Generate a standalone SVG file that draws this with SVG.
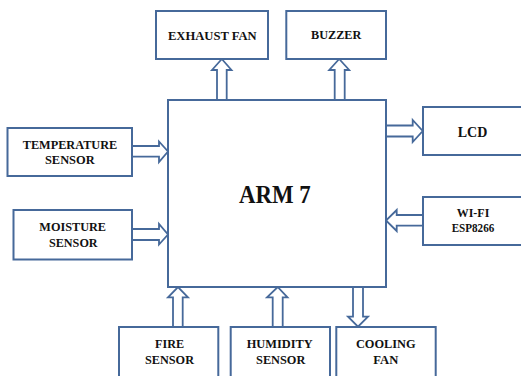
<svg xmlns="http://www.w3.org/2000/svg" width="521" height="376" viewBox="0 0 521 376">
<style>
.box{fill:#fff;stroke:#46699a;stroke-width:2}
.arr{fill:#fff;stroke:#46699a;stroke-width:1.8;stroke-linejoin:miter}
text{font-family:"Liberation Serif","Times New Roman",serif;font-weight:bold;fill:#111;text-anchor:middle;font-size:13px}
.big{font-size:25px}
.mid{font-size:15px}
</style>
<rect width="521" height="376" fill="#fff"/>
<g id="connectors">
<polygon class="arr" points="217,100 217,70 212,70 221.8,59 231.5,70 226.7,70 226.7,100"/>
<polygon class="arr" points="334.7,100 334.7,70 329.2,70 339.2,59 349.2,70 344.7,70 344.7,100"/>
<polygon class="arr" points="386,125.5 412.7,125.5 412.7,120 422.7,131 412.7,142 412.7,136.5 386,136.5"/>
<polygon class="arr" points="132,146 159,146 159,141.5 168,151.5 159,162 159,156.7 132,156.7"/>
<polygon class="arr" points="132,229 159,229 159,224 168,234.5 159,244.5 159,240 132,240"/>
<polygon class="arr" points="423,215 396.7,215 396.7,210 386,220.5 396.7,231 396.7,225.7 423,225.7"/>
<polygon class="arr" points="173,327 173,297.3 168,297.3 178,287 188,297.3 182.7,297.3 182.7,327"/>
<polygon class="arr" points="272.7,327 272.7,297.3 267,297.3 277.7,287 287.5,297.3 282.7,297.3 282.7,327"/>
<polygon class="arr" points="353,287 353,316.7 348,316.7 358,326.7 368,316.7 363,316.7 363,287"/>
</g>
<g id="arm7">
<rect class="box" x="168" y="100" width="218" height="187"/>
<text class="big" x="274.8" y="202.7" textLength="71.7" lengthAdjust="spacingAndGlyphs">ARM 7</text>
</g>
<g id="exhaust-fan">
<rect class="box" x="156" y="11" width="112" height="48"/>
<text x="212.3" y="40" textLength="88.7" lengthAdjust="spacingAndGlyphs">EXHAUST FAN</text>
</g>
<g id="buzzer">
<rect class="box" x="286.3" y="11" width="99.7" height="48"/>
<text x="336.2" y="39.3" textLength="50.3" lengthAdjust="spacingAndGlyphs">BUZZER</text>
</g>
<g id="lcd">
<rect class="box" x="423" y="107" width="110" height="48"/>
<text class="mid" x="472.5" y="136.7" textLength="29.6" lengthAdjust="spacingAndGlyphs">LCD</text>
</g>
<g id="temperature-sensor">
<rect class="box" x="7.5" y="128" width="124.5" height="48"/>
<text x="70" y="149" textLength="94.6" lengthAdjust="spacingAndGlyphs">TEMPERATURE</text>
<text x="69.8" y="164" textLength="49.7" lengthAdjust="spacingAndGlyphs">SENSOR</text>
</g>
<g id="moisture-sensor">
<rect class="box" x="13.5" y="210" width="118.5" height="49.5"/>
<text x="72.7" y="231" textLength="66.7" lengthAdjust="spacingAndGlyphs">MOISTURE</text>
<text x="73.3" y="247.3" textLength="48.7" lengthAdjust="spacingAndGlyphs">SENSOR</text>
</g>
<g id="wifi">
<rect class="box" x="423" y="197" width="110" height="48"/>
<text x="473" y="216.7" textLength="32.6" lengthAdjust="spacingAndGlyphs">WI-FI</text>
<text x="473" y="231.7" textLength="42.6" lengthAdjust="spacingAndGlyphs">ESP8266</text>
</g>
<g id="fire-sensor">
<rect class="box" x="119" y="327" width="99.3" height="60"/>
<text x="169.5" y="348.3" textLength="29" lengthAdjust="spacingAndGlyphs">FIRE</text>
<text x="169.5" y="364" textLength="49" lengthAdjust="spacingAndGlyphs">SENSOR</text>
</g>
<g id="humidity-sensor">
<rect class="box" x="230.7" y="327" width="99.3" height="60"/>
<text x="279.7" y="348.3" textLength="66" lengthAdjust="spacingAndGlyphs">HUMIDITY</text>
<text x="280.7" y="364" textLength="49.3" lengthAdjust="spacingAndGlyphs">SENSOR</text>
</g>
<g id="cooling-fan">
<rect class="box" x="336.3" y="327" width="99.4" height="60"/>
<text x="385.8" y="348.3" textLength="59.7" lengthAdjust="spacingAndGlyphs">COOLING</text>
<text x="385.8" y="364" textLength="25" lengthAdjust="spacingAndGlyphs">FAN</text>
</g>
</svg>
